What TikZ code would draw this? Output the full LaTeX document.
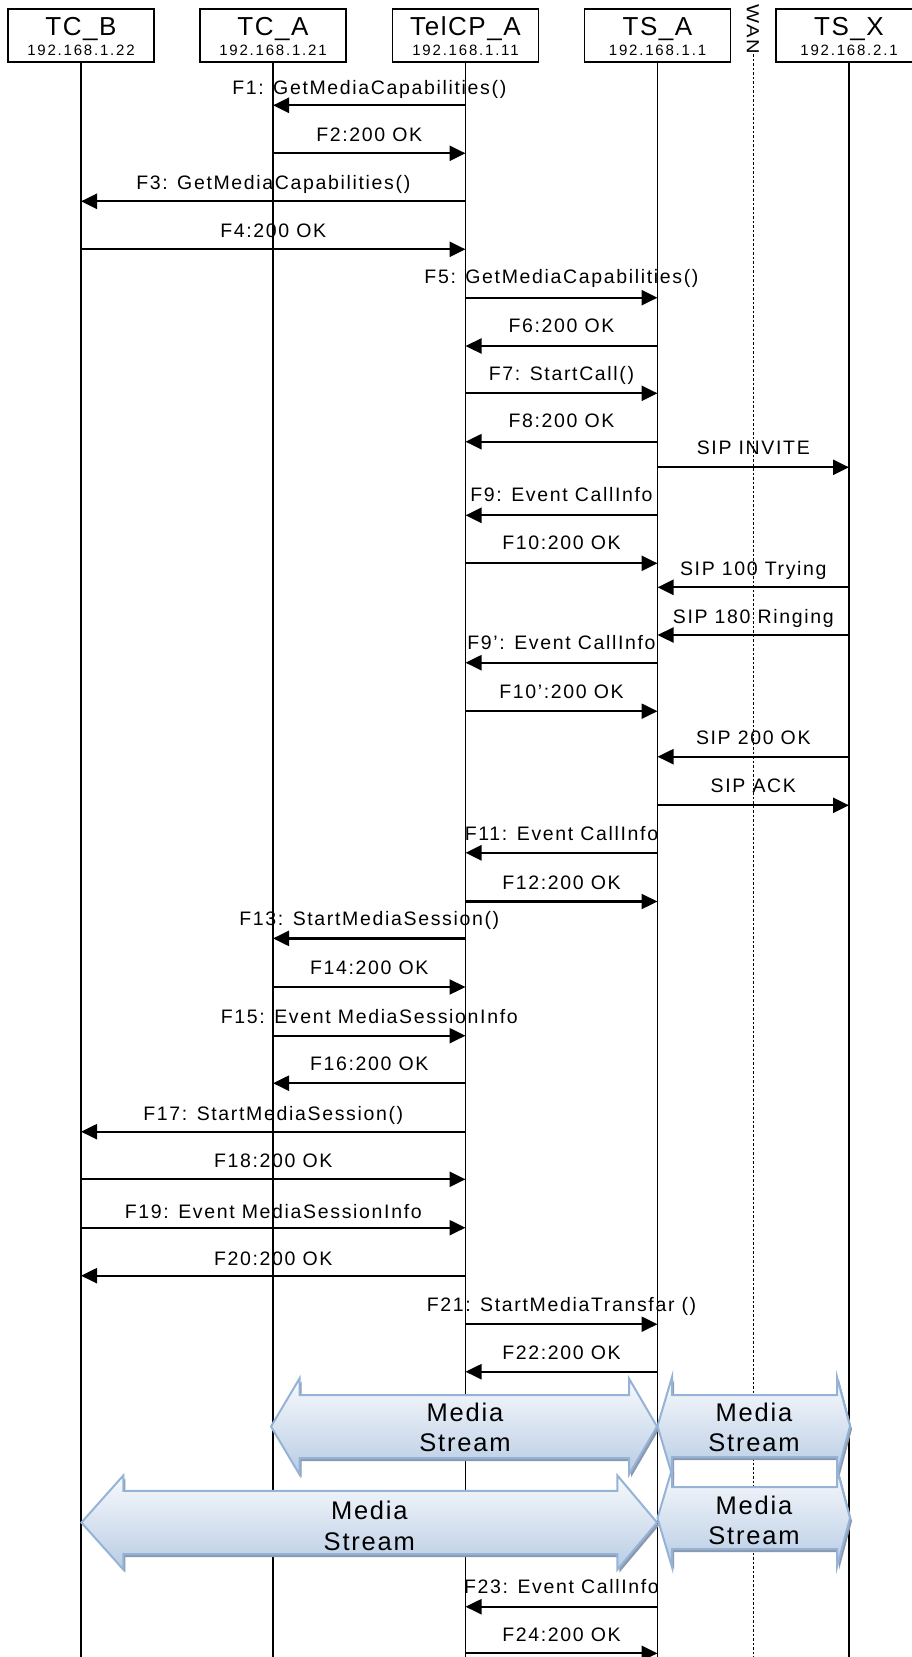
\documentclass[tikz,border=0pt]{standalone}
\usepackage{fontspec}
\setmainfont{Liberation Sans}[LetterSpace=8.5]
\newfontfamily\titlefont{Liberation Sans}[LetterSpace=6]
\newfontfamily\ipfont{Liberation Sans}[LetterSpace=12]
\newfontfamily\streamfont{Liberation Sans}[LetterSpace=7]
\usetikzlibrary{arrows.meta,shadows}
\definecolor{seqcolor0000}{RGB}{0,0,0}
\definecolor{seqcolor0001}{RGB}{149,179,215}
\definecolor{seqcolor0002}{RGB}{248,250,253}
\definecolor{seqcolor0003}{RGB}{184,204,228}
\definecolor{seqcolor0004}{RGB}{140,153,173}
\begin{document}
\begin{tikzpicture}[yscale=-1
                ,headbox/.style={draw=seqcolor0000,line width=1.4pt,minimum width=146pt,minimum height=53pt,inner sep=0pt}
                ,headtext/.style={anchor=base,inner sep=0pt,font=\titlefont\fontsize{26pt}{26pt}\selectfont}
                ,iptext/.style={anchor=base,inner sep=0pt,font=\ipfont\fontsize{15pt}{15pt}\selectfont}
                ,lifeline/.style={color=seqcolor0000,line width=1.3pt}
                ,wanline/.style={color=seqcolor0000,line width=0.9pt,dash pattern=on 2.5pt off 2pt}
                ,msgline/.style={color=seqcolor0000,line width=2.3pt,-{Triangle[length=16pt,width=15pt]}}
                ,msgtext/.style={anchor=base,inner sep=0pt,font=\fontsize{19.5pt}{19.5pt}\selectfont}
                ,streamshape/.style={draw=seqcolor0001,line width=2pt,top color=seqcolor0002,bottom color=seqcolor0003,drop shadow={shadow xshift=2pt,shadow yshift=-3pt,fill=seqcolor0004,opacity=1}}
                ,streamtext/.style={anchor=base,inner sep=0pt,font=\streamfont\fontsize{25.5pt}{25.5pt}\selectfont}
            ]
            \useasboundingbox (0pt,0pt) rectangle (911pt,1657pt);
            \coordinate (bottom) at (0pt,1660pt);
            \node[headbox] (tcb) at (81pt,35.5pt) {};
            \node[headtext] (tcbname) at (81pt,35pt) {TC\_B};
            \node[iptext] (tcbip) at (81pt,55pt) {192.168.1.22};
            \node[headbox] (tca) at (273pt,35.5pt) {};
            \node[headtext] (tcaname) at (273pt,35pt) {TC\_A};
            \node[iptext] (tcaip) at (273pt,55pt) {192.168.1.21};
            \node[headbox] (telcp) at (465.5pt,35.5pt) {};
            \node[headtext] (telcpname) at (465.5pt,35pt) {TelCP\_A};
            \node[iptext] (telcpip) at (465.5pt,55pt) {192.168.1.11};
            \node[headbox] (tsa) at (657.5pt,35.5pt) {};
            \node[headtext] (tsaname) at (657.5pt,35pt) {TS\_A};
            \node[iptext] (tsaip) at (657.5pt,55pt) {192.168.1.1};
            \node[headbox] (tsx) at (849pt,35.5pt) {};
            \node[headtext] (tsxname) at (849pt,35pt) {TS\_X};
            \node[iptext] (tsxip) at (849pt,55pt) {192.168.2.1};
            \node[rotate=-90,inner sep=0pt,font=\fontsize{17.5pt}{17.5pt}\selectfont] (wan) at (753pt,29pt) {\scalebox{1.15}[1]{WAN}};
            \draw[wanline] (wan.east) -- (wan.east |- bottom);
            \draw[lifeline] (tcb.south) -- (tcb.south |- bottom);
            \draw[lifeline] (tca.south) -- (tca.south |- bottom);
            \draw[lifeline] (telcp.south) -- (telcp.south |- bottom);
            \draw[lifeline] (tsa.south) -- (tsa.south |- bottom);
            \draw[lifeline] (tsx.south) -- (tsx.south |- bottom);
            \draw[msgline] (telcp |- 0,105.3pt) -- (tca |- 0,105.3pt);
            \node[msgtext] (f1) at (369.3pt,94pt) {F1: GetMediaCapabilities()};
            \draw[msgline] (tca |- 0,153.3pt) -- (telcp |- 0,153.3pt);
            \node[msgtext] (f2) at (369.3pt,141.7pt) {F2:200 OK};
            \draw[msgline] (telcp |- 0,201.3pt) -- (tcb |- 0,201.3pt);
            \node[msgtext] (f3) at (273.3pt,189pt) {F3: GetMediaCapabilities()};
            \draw[msgline] (tcb |- 0,249.3pt) -- (telcp |- 0,249.3pt);
            \node[msgtext] (f4) at (273.3pt,237pt) {F4:200 OK};
            \draw[msgline] (telcp |- 0,297.7pt) -- (tsa |- 0,297.7pt);
            \node[msgtext] (f5) at (561.5pt,283.3pt) {F5: GetMediaCapabilities()};
            \draw[msgline] (tsa |- 0,346pt) -- (telcp |- 0,346pt);
            \node[msgtext] (f6) at (561.5pt,332.3pt) {F6:200 OK};
            \draw[msgline] (telcp |- 0,393.3pt) -- (tsa |- 0,393.3pt);
            \node[msgtext] (f7) at (561.5pt,380pt) {F7: StartCall()};
            \draw[msgline] (tsa |- 0,441.7pt) -- (telcp |- 0,441.7pt);
            \node[msgtext] (f8) at (561.5pt,427.3pt) {F8:200 OK};
            \draw[msgline] (tsa |- 0,467.3pt) -- (tsx |- 0,467.3pt);
            \node[msgtext] (invite) at (753.3pt,454pt) {SIP INVITE};
            \draw[msgline] (tsa |- 0,515.3pt) -- (telcp |- 0,515.3pt);
            \node[msgtext] (f9) at (561.5pt,501.7pt) {F9: Event CallInfo};
            \draw[msgline] (telcp |- 0,563.3pt) -- (tsa |- 0,563.3pt);
            \node[msgtext] (f10) at (561.5pt,549pt) {F10:200 OK};
            \draw[msgline] (tsx |- 0,587.3pt) -- (tsa |- 0,587.3pt);
            \node[msgtext] (trying) at (753.3pt,575pt) {SIP 100 Trying};
            \draw[msgline] (tsx |- 0,635pt) -- (tsa |- 0,635pt);
            \node[msgtext] (ringing) at (753.3pt,623.3pt) {SIP 180 Ringing};
            \draw[msgline] (tsa |- 0,662.7pt) -- (telcp |- 0,662.7pt);
            \node[msgtext] (f9b) at (561.5pt,649.3pt) {F9': Event CallInfo};
            \draw[msgline] (telcp |- 0,711.2pt) -- (tsa |- 0,711.2pt);
            \node[msgtext] (f10b) at (561.5pt,698.7pt) {F10':200 OK};
            \draw[msgline] (tsx |- 0,756.7pt) -- (tsa |- 0,756.7pt);
            \node[msgtext] (sipok) at (753.3pt,744.2pt) {SIP 200 OK};
            \draw[msgline] (tsa |- 0,805.3pt) -- (tsx |- 0,805.3pt);
            \node[msgtext] (sipack) at (753.3pt,792.8pt) {SIP ACK};
            \draw[msgline] (tsa |- 0,852.8pt) -- (telcp |- 0,852.8pt);
            \node[msgtext] (f11) at (561.5pt,840.3pt) {F11: Event CallInfo};
            \draw[msgline] (telcp |- 0,901.5pt) -- (tsa |- 0,901.5pt);
            \node[msgtext] (f12) at (561.5pt,889pt) {F12:200 OK};
            \draw[msgline] (telcp |- 0,938.4pt) -- (tca |- 0,938.4pt);
            \node[msgtext] (f13) at (369.3pt,925.9pt) {F13: StartMediaSession()};
            \draw[msgline] (tca |- 0,987pt) -- (telcp |- 0,987pt);
            \node[msgtext] (f14) at (369.3pt,974.5pt) {F14:200 OK};
            \draw[msgline] (tca |- 0,1035.7pt) -- (telcp |- 0,1035.7pt);
            \node[msgtext] (f15) at (369.3pt,1023.2pt) {F15: Event MediaSessionInfo};
            \draw[msgline] (telcp |- 0,1083.2pt) -- (tca |- 0,1083.2pt);
            \node[msgtext] (f16) at (369.3pt,1070.7pt) {F16:200 OK};
            \draw[msgline] (telcp |- 0,1131.7pt) -- (tcb |- 0,1131.7pt);
            \node[msgtext] (f17) at (273.3pt,1120pt) {F17: StartMediaSession()};
            \draw[msgline] (tcb |- 0,1179.3pt) -- (telcp |- 0,1179.3pt);
            \node[msgtext] (f18) at (273.3pt,1167.7pt) {F18:200 OK};
            \draw[msgline] (tcb |- 0,1227.7pt) -- (telcp |- 0,1227.7pt);
            \node[msgtext] (f19) at (273.3pt,1218.3pt) {F19: Event MediaSessionInfo};
            \draw[msgline] (telcp |- 0,1275.7pt) -- (tcb |- 0,1275.7pt);
            \node[msgtext] (f20) at (273.3pt,1265.7pt) {F20:200 OK};
            \draw[msgline] (telcp |- 0,1324.2pt) -- (tsa |- 0,1324.2pt);
            \node[msgtext] (f21) at (561.5pt,1311.7pt) {F21: StartMediaTransfar ()};
            \draw[msgline] (tsa |- 0,1371.7pt) -- (telcp |- 0,1371.7pt);
            \node[msgtext] (f22) at (561.5pt,1359.2pt) {F22:200 OK};
            \draw[streamshape] (271pt,1426.5pt) -- (299.5pt,1378.5pt) -- (299.5pt,1395pt) -- (629pt,1395pt) -- (629pt,1378.5pt) -- (657pt,1426.5pt) -- (629pt,1474.5pt) -- (629pt,1458pt) -- (299.5pt,1458pt) -- (299.5pt,1474.5pt) -- cycle;
            \node[streamtext] (media1) at (465pt,1421.7pt) {Media};
            \node[streamtext] (stream1) at (465pt,1451.7pt) {Stream};
            \draw[streamshape] (657.5pt,1426pt) -- (672pt,1377pt) -- (672pt,1395pt) -- (837pt,1395pt) -- (837pt,1377pt) -- (850pt,1426pt) -- (837pt,1475pt) -- (837pt,1457pt) -- (672pt,1457pt) -- (672pt,1475pt) -- cycle;
            \node[streamtext] (media2) at (754pt,1421.7pt) {Media};
            \node[streamtext] (stream2) at (754pt,1451.7pt) {Stream};
            \draw[streamshape] (81.4pt,1522.5pt) -- (123.3pt,1475.5pt) -- (123.3pt,1490.8pt) -- (617.4pt,1490.8pt) -- (617.4pt,1475.5pt) -- (657pt,1522.5pt) -- (617.4pt,1569.5pt) -- (617.4pt,1554.2pt) -- (123.3pt,1554.2pt) -- (123.3pt,1569.5pt) -- cycle;
            \node[streamtext] (media3) at (369.3pt,1519.3pt) {Media};
            \node[streamtext] (stream3) at (369.3pt,1550.7pt) {Stream};
            \draw[streamshape] (657.5pt,1518pt) -- (672pt,1469pt) -- (672pt,1487pt) -- (837pt,1487pt) -- (837pt,1469pt) -- (850pt,1518pt) -- (837pt,1567pt) -- (837pt,1549pt) -- (672pt,1549pt) -- (672pt,1567pt) -- cycle;
            \node[streamtext] (media4) at (754pt,1514pt) {Media};
            \node[streamtext] (stream4) at (754pt,1544pt) {Stream};
            \draw[msgline] (tsa |- 0,1606.7pt) -- (telcp |- 0,1606.7pt);
            \node[msgtext] (f23) at (561.5pt,1593.3pt) {F23: Event CallInfo};
            \draw[msgline] (telcp |- 0,1653.3pt) -- (tsa |- 0,1653.3pt);
            \node[msgtext] (f24) at (561.5pt,1641pt) {F24:200 OK};
        \end{tikzpicture}
\end{document}
